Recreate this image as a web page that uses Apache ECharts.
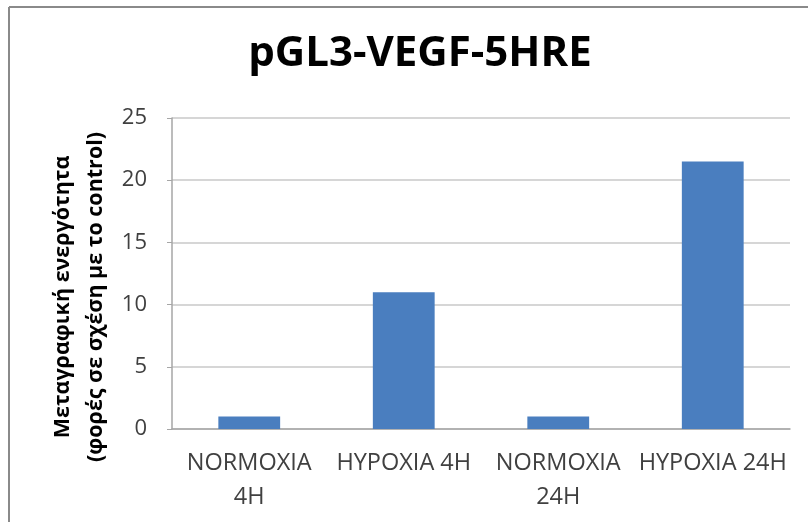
<!DOCTYPE html>
<html>
<head>
<meta charset="utf-8">
<script src="https://cdn.jsdelivr.net/npm/echarts@6/dist/echarts.min.js"></script>
<style>html,body{margin:0;padding:0;background:#fff}#c{width:808px;height:522px}</style>
</head>
<body>
<div id="c"></div>
<script>
const categories = ['NORMOXIA\n4H', 'HYPOXIA 4H', 'NORMOXIA\n24H', 'HYPOXIA 24H'];
const values = [1, 11, 1, 21.5];
const yTicks = [0, 5, 10, 15, 20, 25];
const titleText = 'pGL3-VEGF-5HRE';
const yName = 'Μεταγραφική ενεργότητα\n(φορές σε σχέση με το control)';

const chart = echarts.init(document.getElementById('c'));
chart.setOption({
  backgroundColor: '#ffffff',
  animation: false,
  title: {
    text: titleText, top: 28,
    left: 415, textAlign: 'center',
    textStyle: { fontFamily: 'Open Sans', fontWeight: 'bold', fontSize: 42, color: '#000' }
  },
  graphic: [
    { type: 'line', shape: { x1: 9, y1: 7, x2: 9, y2: 522 }, style: { stroke: '#8a8a8a', lineWidth: 2 } },
    { type: 'line', shape: { x1: 9, y1: 7, x2: 808, y2: 7 }, style: { stroke: '#8a8a8a', lineWidth: 2 } },
    { type: 'text', x: 79, y: 297, rotation: Math.PI / 2,
      style: { text: yName, align: 'center', verticalAlign: 'middle', fill: '#000',
        font: 'bold 21.5px "Open Sans"', lineHeight: 33 } }
  ],
  grid: { left: 172, right: 18, top: 118, bottom: 93, containLabel: false },
  xAxis: {
    type: 'category', data: categories,
    axisLine: { lineStyle: { color: '#a6a6a6', width: 1.5 } },
    axisTick: { show: false },
    axisLabel: { interval: 0, margin: 17, fontFamily: 'Open Sans', fontSize: 23.5, color: '#404040', lineHeight: 34 }
  },
  yAxis: {
    type: 'value', min: yTicks[0], max: yTicks[yTicks.length - 1], interval: 5,
    axisLine: { show: true, lineStyle: { color: '#a6a6a6', width: 1.5 } },
    axisTick: { show: true, length: 5, lineStyle: { color: '#a6a6a6' } },
    splitLine: { lineStyle: { color: '#c8c8c8', width: 1.5 } },
    axisLabel: { margin: 25, fontFamily: 'Open Sans', fontSize: 22, color: '#404040' }
  },
  series: [{
    type: 'bar', data: values, barWidth: '40%',
    itemStyle: { color: '#4a7ebf' }
  }]
});
</script>
</body>
</html>
